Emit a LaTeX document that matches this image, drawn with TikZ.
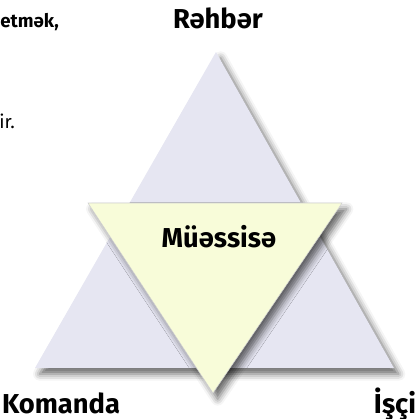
\documentclass[tikz,border=0pt]{standalone}
\usepackage{fontspec}
\setmainfont{Fira Sans}
\usetikzlibrary{shadows.blur}
\definecolor{lavender}{HTML}{E6E6F2}
\definecolor{paleyellow}{HTML}{F8FCD9}

\begin{document}
\begin{tikzpicture}[x=0.75pt,y=-0.75pt,
    corner/.style={font=\bfseries\fontsize{20.5}{24}\selectfont,inner sep=0pt,anchor=base},
    margintext/.style={font=\fontsize{14}{17}\selectfont,inner sep=0pt,anchor=base west},
    softshadow/.style={blur shadow={shadow xshift=3.5pt,shadow yshift=-4.5pt,shadow blur radius=5pt,shadow opacity=60}}]
    \useasboundingbox (0,0) rectangle (417,419);
    \clip (0,0) rectangle (417,419);
    % big triangle
    \coordinate (apex) at (216,52);
    \coordinate (baseL) at (35,368);
    \coordinate (baseR) at (394,368);
    \fill[lavender,softshadow] (apex) -- (baseR) -- (baseL) -- cycle;
    % inverted triangle
    \coordinate (invL) at (88,203);
    \coordinate (invR) at (342,203);
    \coordinate (invB) at (213,393);
    \filldraw[fill=paleyellow,draw=gray!35,line width=0.4pt,softshadow] (invL) -- (invR) -- (invB) -- cycle;
    % labels
    \node[corner] (leader) at (218,28) {Rəhbər};
    \node[corner] (firm) at (219,247) {Müəssisə};
    \node[corner] (team) at (61,413) {Komanda};
    \node[corner] (worker) at (395,413) {İşçi};
    % text of the page around
    \node[margintext,font=\bfseries\fontsize{14}{17}\selectfont] (cutA) at (0,27) {etmək,};
    \node[margintext] (cutB) at (-1,128) {ir.};
\end{tikzpicture}
\end{document}
